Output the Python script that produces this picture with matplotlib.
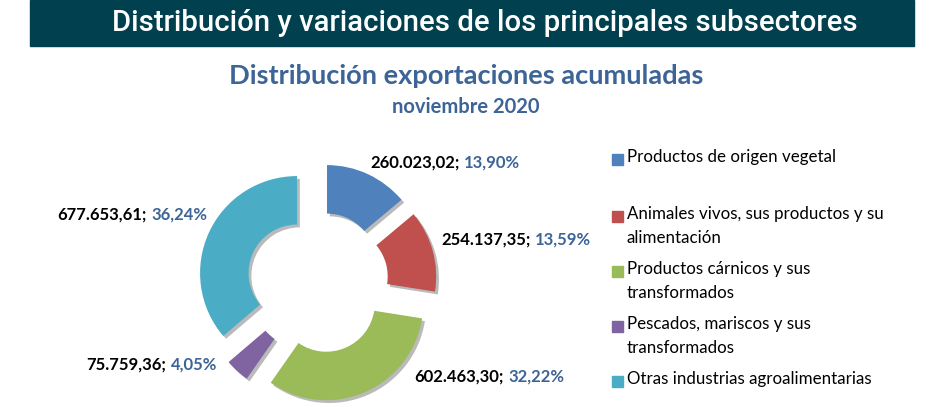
import matplotlib
matplotlib.use("Agg")
import matplotlib.pyplot as plt
from matplotlib.patches import Rectangle
import matplotlib.patheffects as pe

# ---- data ----
categories = ["Productos de origen vegetal",
              "Animales vivos, sus productos y su\nalimentación",
              "Productos cárnicos y sus\ntransformados",
              "Pescados, mariscos y sus\ntransformados",
              "Otras industrias agroalimentarias"]
values = [260023.02, 254137.35, 602463.30, 75759.36, 677653.61]
value_labels = ["260.023,02", "254.137,35", "602.463,30", "75.759,36", "677.653,61"]
pct_labels = ["13,90%", "13,59%", "32,22%", "4,05%", "36,24%"]
colors = ["#4F81BD", "#C0504D", "#9BBB59", "#8064A2", "#4BACC6"]

header = "Distribución y variaciones de los principales subsectores"
title = "Distribución exportaciones acumuladas"
subtitle = "noviembre 2020"

W, H = 941, 411
fig = plt.figure(figsize=(W / 100, H / 100), dpi=100)
fig.patch.set_facecolor("white")

# overlay axes in pixel coords (y down)
ov = fig.add_axes([0, 0, 1, 1])
ov.set_xlim(0, W)
ov.set_ylim(H, 0)
ov.axis("off")

ov.add_patch(Rectangle((30, 0), 884, 46, color="#00404F", zorder=1))
ov.text(485, 23, header, color="white", fontsize=21.2, fontfamily="Roboto",
        fontweight="medium", ha="center", va="center", zorder=2)
blue_txt = "#3C6497"
ov.text(466, 76, title, color=blue_txt, fontsize=19.6, fontfamily="Lato",
        fontweight="bold", ha="center", va="center")
ov.text(466, 107, subtitle, color=blue_txt, fontsize=14.5, fontfamily="Lato",
        fontweight="bold", ha="center", va="center")

# ---- donut ----
cx, cy = 317.5, 282.5
R = 97.0
half = 125.0
pa = fig.add_axes([(cx - half) / W, (H - cy - half) / H, 2 * half / W, 2 * half / H])
lim = half / R
pa.set_xlim(-lim, lim)
pa.set_ylim(-lim, lim)
pa.set_aspect("equal")
pa.axis("off")
explode = [0.232] * len(values)
wedges, _ = pa.pie(values, colors=colors, startangle=90, counterclock=False,
                   explode=explode, radius=1.0,
                   wedgeprops=dict(width=0.5, linewidth=0, edgecolor="none"))
for w in wedges:
    w.set_path_effects([pe.SimplePatchShadow(offset=(2, -2), shadow_rgbFace="#666666", alpha=0.45),
                        pe.Normal()])
pa.set_xlim(-lim, lim)
pa.set_ylim(-lim, lim)

# ---- data labels ----
label_pos = [(370, 163), (441, 240), (414, 377), (86, 365), (57, 215)]
for (x, y), vl, pl in zip(label_pos, value_labels, pct_labels):
    t1 = ov.text(x, y, vl + ";", color="black", fontsize=12, fontfamily="Lato",
                 fontweight="bold", ha="left", va="center")
    ov.annotate(pl, xy=(1, 0.5), xycoords=t1, xytext=(3.5, 0), textcoords="offset points",
                color=blue_txt, fontsize=12, fontfamily="Lato", fontweight="bold",
                ha="left", va="center")

# ---- legend ----
leg_y = [160, 217, 272, 327, 382]
for yy, cat, col in zip(leg_y, categories, colors):
    ov.add_patch(Rectangle((612, yy - 6), 11, 11, color=col))
    ov.text(627, yy - 11, cat, color="black", fontsize=12.2, fontfamily="Lato",
            ha="left", va="top", linespacing=1.62)

fig.savefig("out.png", dpi=100)
